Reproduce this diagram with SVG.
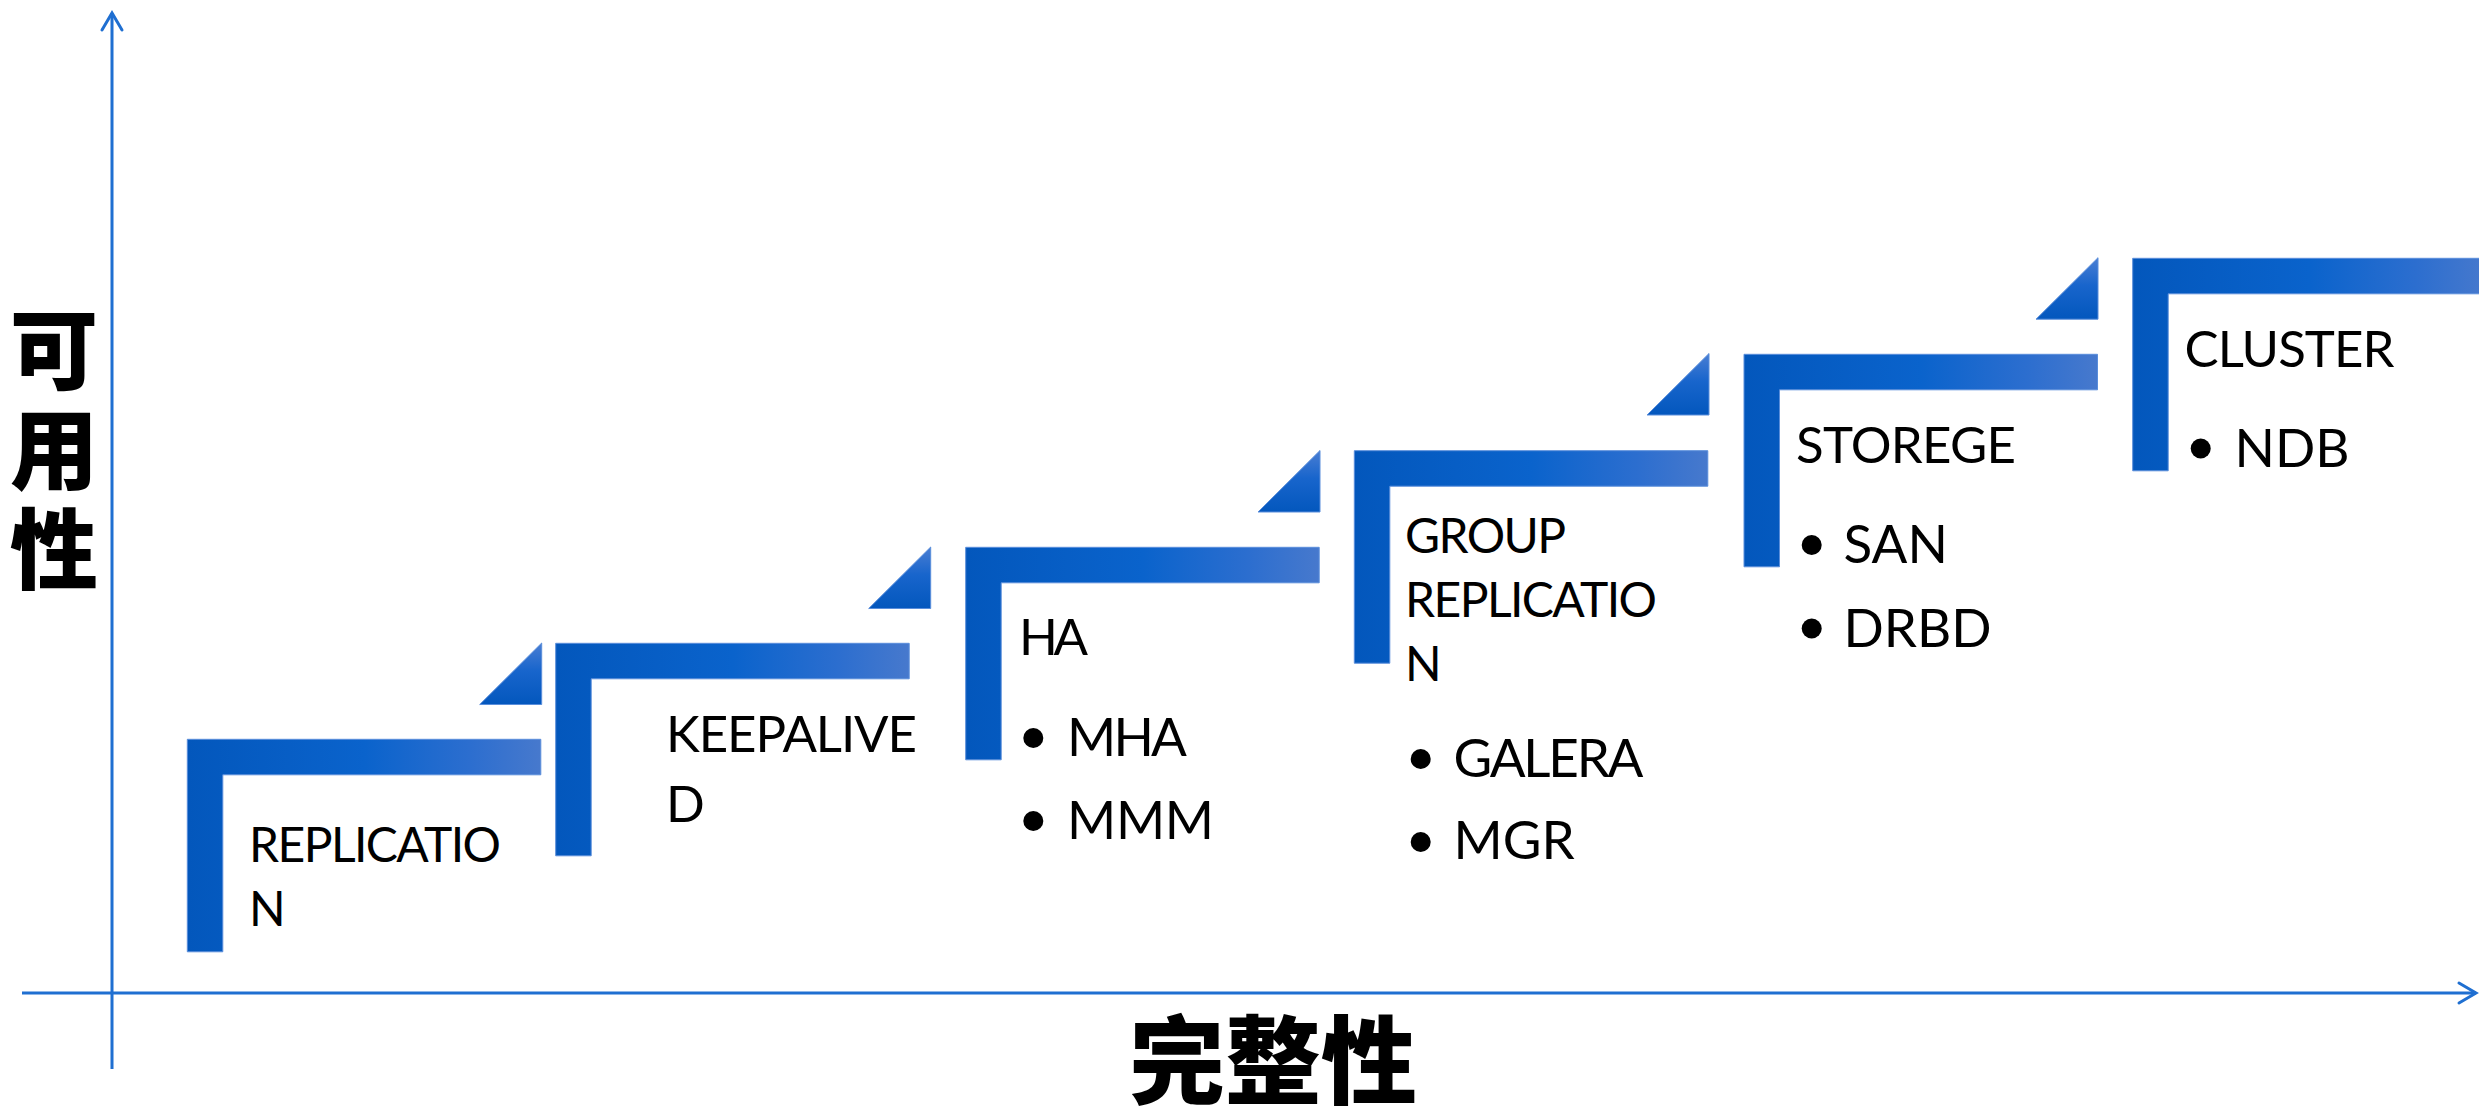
<svg xmlns="http://www.w3.org/2000/svg" xmlns:xlink="http://www.w3.org/1999/xlink" width="2479" height="1113" viewBox="0 0 2479 1113">
<style>
.lbl{font-family:Lato,"Open Sans","Liberation Sans",sans-serif;fill:#000;}
.h{font-size:51px;}
.hs{font-size:48px;}
.b{font-size:53px;}
.cjk{font-family:"Noto Sans CJK SC","Noto Sans CJK JP",sans-serif;font-weight:900;fill:#000;}
.axis{stroke:#1F6FD1;stroke-width:3;fill:none;}
.dot{fill:#000;}
</style>
<defs>
<linearGradient id="barGrad" x1="0" y1="0" x2="1" y2="0">
<stop offset="0" stop-color="#0357BC"/>
<stop offset="0.5" stop-color="#0A63CC"/>
<stop offset="0.8" stop-color="#2C6ECF"/>
<stop offset="1" stop-color="#4779CD"/>
</linearGradient>
<linearGradient id="triGrad" x1="0" y1="0" x2="0" y2="1">
<stop offset="0" stop-color="#4A7ED3"/>
<stop offset="0.45" stop-color="#1865CC"/>
<stop offset="1" stop-color="#0357BD"/>
</linearGradient>
<path id="step" d="M0,0 H353.5 V35.5 H35.5 V212.5 H0 Z" fill="url(#barGrad)" stroke="#5A8EDB" stroke-width="1"/>
<path id="tri" d="M0,61.5 H62 V0 Z" fill="url(#triGrad)" stroke="#5A8EDB" stroke-width="1"/>
<marker id="arrow" viewBox="-22 -14 26 28" refX="0" refY="0" markerWidth="26" markerHeight="28" markerUnits="userSpaceOnUse" orient="auto">
<path d="M-17,-10 L0,0 L-17,10" fill="none" stroke="#1F6FD1" stroke-width="3" stroke-linecap="round"/>
</marker>
</defs>
<rect width="2479" height="1113" fill="#fff"/>

<g id="connectors">
<line class="axis" x1="112" y1="1069" x2="112" y2="13" marker-end="url(#arrow)"/>
<line class="axis" x1="22" y1="993" x2="2476" y2="993" marker-end="url(#arrow)"/>
</g>

<g id="axis-y-label">
<text class="cjk" font-size="88" x="54" y="305" writing-mode="vertical-rl" style="letter-spacing:12px">可用性</text>
</g>
<g id="axis-x-label">
<text class="cjk" font-size="96" x="1129" y="1096">完整性</text>
</g>

<g id="step1">
<use xlink:href="#step" x="187.3" y="739.3"/>
<use xlink:href="#tri" x="479.7" y="643"/>
<text class="lbl hs" x="249" y="862" textLength="252">REPLICATIO</text>
<text class="lbl hs" x="249" y="926">N</text>
</g>

<g id="step2">
<use xlink:href="#step" x="555.7" y="643.3"/>
<use xlink:href="#tri" x="868.7" y="547"/>
<text class="lbl h" x="666" y="752" textLength="251">KEEPALIVE</text>
<text class="lbl h" x="666" y="822">D</text>
</g>

<g id="step3">
<use xlink:href="#step" x="965.7" y="547.3"/>
<use xlink:href="#tri" x="1258" y="450.5"/>
<text class="lbl h" x="1019" y="655" textLength="69">HA</text>
<circle class="dot" cx="1033.3" cy="738" r="10"/>
<text class="lbl b" x="1067" y="756" textLength="120">MHA</text>
<circle class="dot" cx="1033.3" cy="821" r="10"/>
<text class="lbl b" x="1067" y="839" textLength="147">MMM</text>
</g>

<g id="step4">
<use xlink:href="#step" x="1354.3" y="450.7"/>
<use xlink:href="#tri" x="1647" y="353.5"/>
<text class="lbl hs" x="1405" y="553" textLength="161">GROUP</text>
<text class="lbl hs" x="1405" y="617" textLength="252">REPLICATIO</text>
<text class="lbl hs" x="1405" y="681">N</text>
<circle class="dot" cx="1420.7" cy="759" r="10"/>
<text class="lbl b" x="1453.5" y="777" textLength="190">GALERA</text>
<circle class="dot" cx="1420.7" cy="842" r="10"/>
<text class="lbl b" x="1453.5" y="859">MGR</text>
</g>

<g id="step5">
<use xlink:href="#step" x="1744" y="354.3"/>
<use xlink:href="#tri" x="2036" y="257.7"/>
<text class="lbl h" x="1796" y="463" textLength="220">STOREGE</text>
<circle class="dot" cx="1811.7" cy="545" r="10"/>
<text class="lbl b" x="1843.5" y="563">SAN</text>
<circle class="dot" cx="1811.7" cy="628.5" r="10"/>
<text class="lbl b" x="1843.5" y="647">DRBD</text>
</g>

<g id="step6">
<use xlink:href="#step" x="2132.7" y="258.3"/>
<text class="lbl h" x="2184.5" y="367" textLength="210">CLUSTER</text>
<circle class="dot" cx="2200.7" cy="448.5" r="10"/>
<text class="lbl b" x="2234.5" y="467">NDB</text>
</g>
</svg>
